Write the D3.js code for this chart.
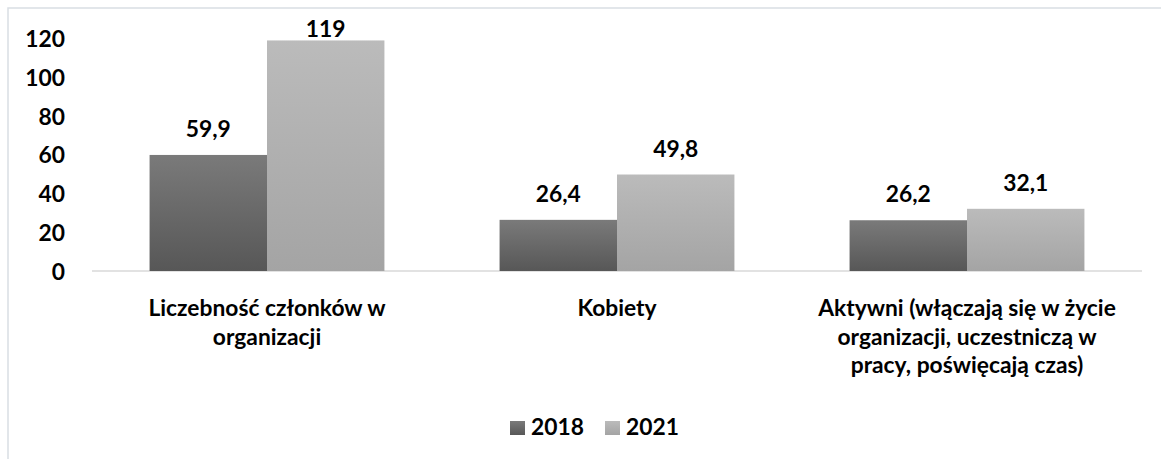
<!DOCTYPE html>
<html>
<head>
<meta charset="utf-8">
<script src="https://cdn.jsdelivr.net/npm/d3@7"></script>
<style>
  body { margin: 0; background: #fff; }
  text { font-family: Lato, "Open Sans", sans-serif; font-weight: bold; fill: #000; }
</style>
</head>
<body>
<div id="viz"></div>
<script>
// data
var categories = ["Liczebność członków w organizacji", "Kobiety", "Aktywni (włączają się w życie organizacji, uczestniczą w pracy, poświęcają czas)"];
var categoryLines = [
  ["Liczebność członków w", "organizacji"],
  ["Kobiety"],
  ["Aktywni (włączają się w życie", "organizacji, uczestniczą w", "pracy, poświęcają czas)"]
];
var series = ["2018", "2021"];
var values2018 = [59.9, 26.4, 26.2];
var values2021 = [119, 49.8, 32.1];
var yTicks = [0, 20, 40, 60, 80, 100, 120];

var W = 1161, H = 459;
var fs = "22.8px";
var svg = d3.select("#viz").append("svg").attr("width", W).attr("height", H);

// gradients like the office bar fill
var defs = svg.append("defs");
function grad(id, top, bottom) {
  var g = defs.append("linearGradient").attr("id", id)
    .attr("x1", 0).attr("y1", 0).attr("x2", 0).attr("y2", 1);
  g.append("stop").attr("offset", "0%").attr("stop-color", top);
  g.append("stop").attr("offset", "100%").attr("stop-color", bottom);
}
grad("g2018", "#7a7a7a", "#575757");
grad("g2021", "#bbbbbb", "#a4a4a4");
var fills = { "2018": "url(#g2018)", "2021": "url(#g2021)" };

// chart border (top / left visible)
svg.append("rect").attr("x", 8).attr("y", 8).attr("width", W + 10).attr("height", H + 10)
  .attr("fill", "none").attr("stroke", "#d9dee4").attr("stroke-width", 1.5);

var x0 = d3.scaleBand().domain(categories).range([92, 1142])
  .paddingInner(0.329).paddingOuter(0.1645);
var x1 = d3.scaleBand().domain(series).range([0, x0.bandwidth()]);
var y = d3.scaleLinear().domain([0, 120]).range([271, 38.5]);

// y axis labels
var yAxis = d3.axisLeft(y).tickValues(yTicks).tickSize(0).tickPadding(0);
var ya = svg.append("g").attr("transform", "translate(65,0)").call(yAxis);
ya.select(".domain").remove();
ya.selectAll("text").style("font-size", fs).attr("dy", "0.36em");

// baseline
svg.append("line").attr("x1", 92).attr("x2", 1142).attr("y1", y(0)).attr("y2", y(0))
  .attr("stroke", "#d9d9d9").attr("stroke-width", 1.5);

var rows = categories.map(function(c, i) {
  return { cat: c, vals: [{ s: "2018", v: values2018[i] }, { s: "2021", v: values2021[i] }] };
});

var groups = svg.selectAll("g.grp").data(rows).enter().append("g").attr("class", "grp")
  .attr("transform", function(d) { return "translate(" + x0(d.cat) + ",0)"; });

groups.selectAll("rect").data(function(d) { return d.vals; }).enter().append("rect")
  .attr("x", function(d) { return x1(d.s); })
  .attr("width", x1.bandwidth())
  .attr("y", function(d) { return y(d.v); })
  .attr("height", function(d) { return y(0) - y(d.v); })
  .attr("fill", function(d) { return fills[d.s]; });

groups.selectAll("text.val").data(function(d) { return d.vals; }).enter().append("text")
  .attr("class", "val")
  .attr("x", function(d) { return x1(d.s) + x1.bandwidth() / 2; })
  .attr("y", function(d) { return Math.max(y(d.v) - 18, 37); })
  .attr("text-anchor", "middle")
  .style("font-size", fs)
  .text(function(d) { return String(d.v).replace(".", ","); });

// category labels
svg.selectAll("text.cat").data(categories).enter().append("text").attr("class", "cat")
  .attr("text-anchor", "middle").style("font-size", fs)
  .each(function(c, i) {
    var t = d3.select(this);
    categoryLines[i].forEach(function(line, k) {
      t.append("tspan").attr("x", x0(c) + x0.bandwidth() / 2).attr("y", 316 + k * 28.5).text(line);
    });
  });

// legend
var leg = svg.append("g");
var legX = [510, 605];
series.forEach(function(s, i) {
  leg.append("rect").attr("x", legX[i]).attr("y", 421).attr("width", 15).attr("height", 14)
    .attr("fill", fills[s]);
  leg.append("text").attr("x", legX[i] + 21).attr("y", 435).style("font-size", fs).text(s);
});
</script>
</body>
</html>
